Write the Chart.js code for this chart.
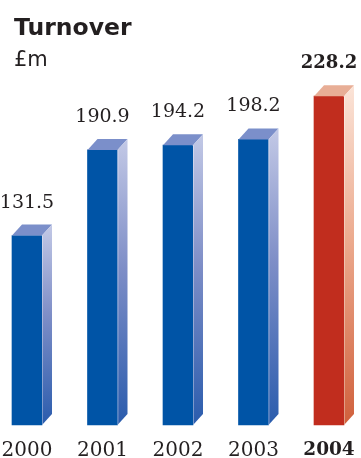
<!DOCTYPE html>
<html>
<head>
<meta charset="utf-8">
<script src="https://cdn.jsdelivr.net/npm/chart.js@4.4.0/dist/chart.umd.min.js"></script>
<style>
  html, body { margin: 0; padding: 0; background: #fff; }
  #wrap { width: 361px; height: 458px; }
</style>
</head>
<body>
<div id="wrap"><canvas id="turnover"></canvas></div>
<script>
// turnover by year, £m
const years = ['2000', '2001', '2002', '2003', '2004'];
const turnover = [131.5, 190.9, 194.2, 198.2, 228.2];
const valueLabels = ['131.5', '190.9', '194.2', '198.2', '228.2'];
const highlightIndex = 4;

const blue = { front: '#0054a6', top: '#7b8fca', sideTop: '#c3c9e6', sideMid: '#7e8ec7', sideBottom: '#2a5cad' };
const red = { front: '#c12d1e', top: '#e8ae96', sideTop: '#fbe4d8', sideMid: '#ecab8f', sideBottom: '#d0603c' };

const depthX = 10;
const depthY = 11;
const serif = "'DejaVu Serif', serif";
const sans = "'DejaVu Sans', sans-serif";

// top and side faces of each bar, plus the value above it
const boxFaces = {
  id: 'boxFaces',
  afterDatasetsDraw(chart) {
    const ctx = chart.ctx;
    const meta = chart.getDatasetMeta(0);
    meta.data.forEach((bar, i) => {
      const c = i === highlightIndex ? red : blue;
      const left = bar.x - bar.width / 2;
      const right = bar.x + bar.width / 2;
      const top = bar.y;
      const base = bar.base;

      ctx.save();
      // top face
      ctx.fillStyle = c.top;
      ctx.beginPath();
      ctx.moveTo(left, top);
      ctx.lineTo(left + depthX, top - depthY);
      ctx.lineTo(right + depthX, top - depthY);
      ctx.lineTo(right, top);
      ctx.closePath();
      ctx.fill();

      // side face, light at the top fading down
      const grad = ctx.createLinearGradient(0, top - depthY, 0, base);
      grad.addColorStop(0, c.sideTop);
      grad.addColorStop(0.45, c.sideMid);
      grad.addColorStop(1, c.sideBottom);
      ctx.fillStyle = grad;
      ctx.beginPath();
      ctx.moveTo(right, top);
      ctx.lineTo(right + depthX, top - depthY);
      ctx.lineTo(right + depthX, base - depthY);
      ctx.lineTo(right, base);
      ctx.closePath();
      ctx.fill();

      // thin highlight on the front edge
      ctx.strokeStyle = 'rgba(255,255,255,0.35)';
      ctx.lineWidth = 1;
      ctx.beginPath();
      ctx.moveTo(right + 0.5, top);
      ctx.lineTo(right + 0.5, base);
      ctx.stroke();

      // value label
      const bold = i === highlightIndex;
      ctx.fillStyle = '#231f20';
      ctx.font = (bold ? 'bold 18px ' : '19px ') + serif;
      ctx.textAlign = 'center';
      ctx.textBaseline = 'alphabetic';
      ctx.fillText(valueLabels[i], bar.x, top - depthY - 17);
      ctx.restore();
    });
  }
};

new Chart('turnover', {
  type: 'bar',
  data: {
    labels: years,
    datasets: [{
      data: turnover,
      backgroundColor: turnover.map((v, i) => i === highlightIndex ? red.front : blue.front),
      borderWidth: 0,
      barThickness: 30,
      clip: false
    }]
  },
  options: {
    responsive: true,
    maintainAspectRatio: false,
    animation: false,
    events: [],
    layout: { padding: { left: 14, right: 0, top: 0, bottom: 0 } },
    plugins: {
      legend: { display: false },
      tooltip: { enabled: false },
      title: {
        display: true,
        text: 'Turnover',
        align: 'start',
        color: '#231f20',
        font: { family: sans, size: 23.5, weight: 'bold', lineHeight: 1.2 },
        padding: { top: 15, bottom: 0 }
      },
      subtitle: {
        display: true,
        text: '£m',
        align: 'start',
        color: '#231f20',
        font: { family: sans, size: 21, weight: 'normal', lineHeight: 1.2 },
        padding: { top: 5, bottom: 0 }
      }
    },
    scales: {
      x: {
        offset: false,
        grid: { display: false, drawTicks: false },
        border: { display: false },
        ticks: {
          padding: 14,
          color: '#231f20',
          font: ctx => ({
            family: serif,
            size: ctx.index === highlightIndex ? 18.5 : 20,
            weight: ctx.index === highlightIndex ? 'bold' : 'normal',
            lineHeight: 1.2
          })
        },
        afterFit: scale => {
          scale.height = 33;
          scale.paddingLeft = 27;
          scale.paddingRight = 32;
        }
      },
      y: {
        display: false,
        min: 0,
        max: 244
      }
    }
  },
  plugins: [boxFaces]
});
</script>
</body>
</html>
